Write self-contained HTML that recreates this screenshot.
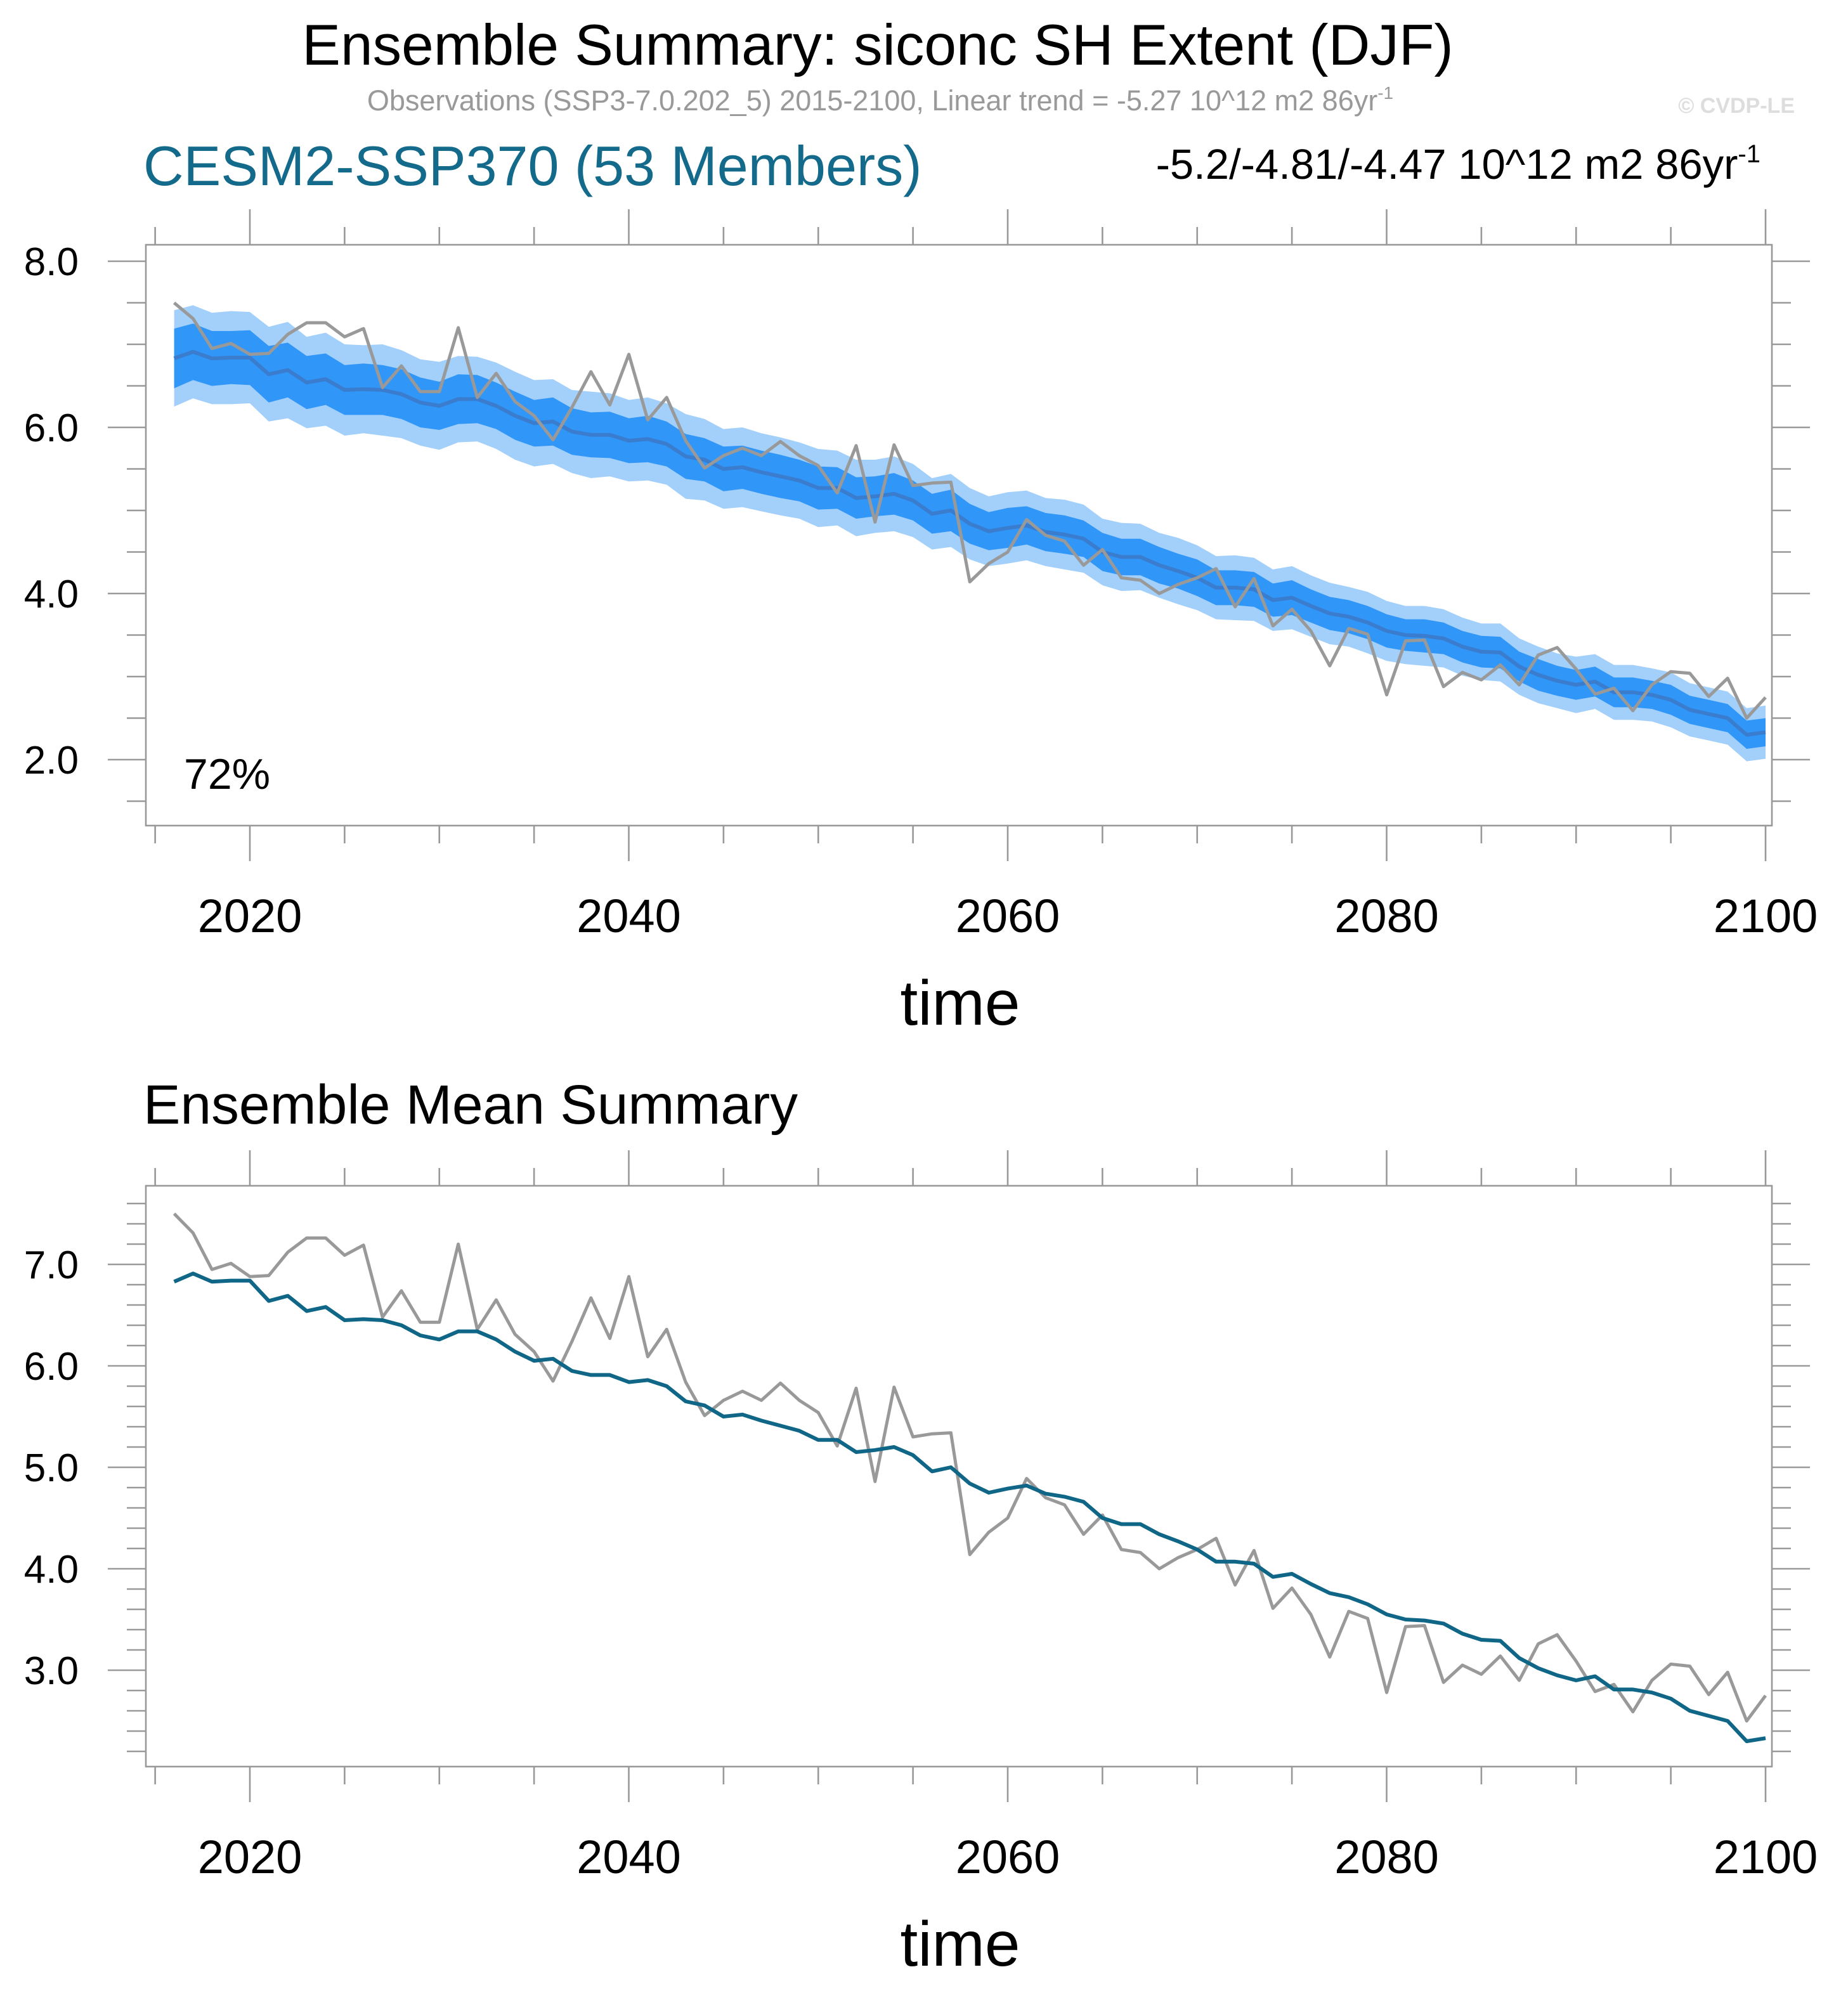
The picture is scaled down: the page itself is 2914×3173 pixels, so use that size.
<!DOCTYPE html>
<html><head><meta charset="utf-8"><style>
html,body{margin:0;padding:0;background:#fff;}
svg{display:block;font-family:"Liberation Sans",sans-serif;}
</style></head><body>
<svg id="chart" width="2914" height="3173" viewBox="0 0 1457 1586.5" xmlns="http://www.w3.org/2000/svg">
<text x="692" y="51" font-size="45.5" text-anchor="middle">Ensemble Summary: siconc SH Extent (DJF)</text>
<text x="694" y="87" font-size="22.5" fill="#999" text-anchor="middle">Observations (SSP3-7.0.202_5) 2015-2100, Linear trend = -5.27 10^12 m2 86yr<tspan dy="-9" font-size="14">-1</tspan></text>
<text x="1415" y="89" font-size="17" font-weight="bold" fill="#ddd" text-anchor="end">© CVDP-LE</text>
<text x="113" y="146" font-size="44" fill="#136a8a">CESM2-SSP370 (53 Members)</text>
<text x="1388" y="141" font-size="33.5" text-anchor="end">-5.2/-4.81/-4.47 10^12 m2 86yr<tspan dy="-13" font-size="20">-1</tspan></text>
<text x="113" y="886" font-size="43.8">Ensemble Mean Summary</text>
<g id="top"></g>
<g id="bot"></g>
</svg>
<script>
const years=[];for(let y=2016;y<=2100;y++)years.push(y);
const obs=[7.5,7.31,6.95,7.01,6.88,6.89,7.12,7.26,7.26,7.09,7.19,6.48,6.74,6.43,6.43,7.2,6.36,6.65,6.31,6.14,5.85,6.24,6.67,6.27,6.88,6.09,6.36,5.84,5.51,5.66,5.75,5.66,5.83,5.66,5.54,5.21,5.78,4.86,5.79,5.3,5.33,5.34,4.14,4.36,4.5,4.89,4.7,4.63,4.34,4.53,4.19,4.16,4.0,4.11,4.19,4.3,3.84,4.18,3.61,3.81,3.55,3.13,3.58,3.51,2.78,3.43,3.44,2.88,3.05,2.96,3.14,2.9,3.26,3.35,3.09,2.79,2.86,2.59,2.9,3.06,3.04,2.76,2.98,2.5,2.75];
const ensMean=[6.83,6.91,6.83,6.84,6.84,6.64,6.69,6.54,6.58,6.45,6.46,6.45,6.4,6.3,6.26,6.34,6.34,6.26,6.14,6.05,6.07,5.95,5.91,5.91,5.84,5.86,5.8,5.65,5.61,5.5,5.52,5.46,5.41,5.36,5.27,5.27,5.15,5.17,5.2,5.12,4.96,5.0,4.84,4.75,4.79,4.82,4.74,4.71,4.66,4.5,4.44,4.44,4.34,4.27,4.19,4.07,4.07,4.05,3.92,3.95,3.85,3.76,3.72,3.65,3.55,3.5,3.49,3.46,3.36,3.3,3.29,3.12,3.02,2.95,2.9,2.94,2.81,2.81,2.78,2.72,2.6,2.55,2.5,2.3,2.33];
const darkSpread=[0.36,0.34,0.33,0.32,0.33,0.34,0.33,0.32,0.31,0.3,0.31,0.3,0.3,0.3,0.29,0.3,0.29,0.28,0.29,0.28,0.29,0.28,0.27,0.28,0.27,0.28,0.27,0.27,0.26,0.27,0.26,0.26,0.26,0.25,0.26,0.25,0.25,0.24,0.25,0.24,0.24,0.25,0.24,0.23,0.24,0.23,0.23,0.23,0.22,0.23,0.22,0.22,0.22,0.21,0.22,0.21,0.21,0.21,0.2,0.21,0.2,0.2,0.2,0.2,0.2,0.19,0.2,0.19,0.19,0.19,0.19,0.18,0.19,0.18,0.18,0.18,0.18,0.18,0.17,0.18,0.17,0.17,0.17,0.17,0.17];
const lightSpread=[0.58,0.56,0.55,0.56,0.55,0.57,0.58,0.55,0.56,0.55,0.53,0.55,0.53,0.52,0.53,0.52,0.51,0.52,0.53,0.52,0.51,0.5,0.52,0.5,0.49,0.5,0.49,0.51,0.49,0.48,0.48,0.47,0.47,0.46,0.47,0.45,0.46,0.44,0.45,0.44,0.43,0.44,0.43,0.42,0.43,0.42,0.41,0.42,0.41,0.4,0.41,0.4,0.39,0.4,0.39,0.38,0.39,0.38,0.37,0.38,0.37,0.37,0.36,0.37,0.36,0.35,0.36,0.35,0.35,0.34,0.35,0.34,0.34,0.33,0.34,0.33,0.33,0.33,0.32,0.33,0.32,0.32,0.32,0.32,0.32];
const xTickLabels=["2020","2040","2060","2080","2100"];
const topYTicks=["2.0","4.0","6.0","8.0"];
const botYTicks=["3.0","4.0","5.0","6.0","7.0"];
const NS="http://www.w3.org/2000/svg";
function mk(p,t,a){const e=document.createElementNS(NS,t);for(const k in a)e.setAttribute(k,a[k]);p.appendChild(e);return e;}
const X=y=>197+(y-2020)*14.9375;
function panel(g,top,bot,yOf,yMin,yMax,minorStep,majors){
  const L=115,R=1397;
  for(let yr=2015;yr<=2100;yr+=5){const x=X(yr);const maj=yr%20===0;const len=maj?28:14;
    const t1=mk(g,'line',{x1:x,x2:x,y1:top,y2:top-len,stroke:'#999','stroke-width':1.3});
    
    const t2=mk(g,'line',{x1:x,x2:x,y1:bot,y2:bot+len,stroke:'#999','stroke-width':1.3});
    }
  xTickLabels.forEach(s=>{const t=mk(g,'text',{x:X(+s),y:bot+84,'font-size':37,'text-anchor':'middle'});t.textContent=s;
    });
  const xt=mk(g,'text',{x:757,y:bot+157,'font-size':50,'text-anchor':'middle'});xt.textContent='time';
  
  for(let v=yMin;v<=yMax+1e-6;v+=minorStep){const y=yOf(v);if(y<top-1||y>bot+1)continue;
    const maj=majors.some(m=>Math.abs(+m-v)<1e-6);const len=maj?30:15;
    const a=mk(g,'line',{x1:L,x2:L-len,y1:y,y2:y,stroke:'#999','stroke-width':1.3});
    
    const b=mk(g,'line',{x1:R,x2:R+len,y1:y,y2:y,stroke:'#999','stroke-width':1.3});
    }
  majors.forEach(s=>{const t=mk(g,'text',{x:62,y:yOf(+s)+11,'font-size':31,'text-anchor':'end'});t.textContent=s;
    });
}
function line(g,vals,yOf,color,w,name){const d=vals.map((v,i)=>(i?'L':'M')+X(years[i]).toFixed(1)+' '+yOf(v).toFixed(1)).join('');
  const p=mk(g,'path',{d,fill:'none',stroke:color,'stroke-width':w,'stroke-linejoin':'round'});
  }
function band(g,lo,hi,yOf,color,name){let d=hi.map((v,i)=>(i?'L':'M')+X(years[i]).toFixed(1)+' '+yOf(v).toFixed(1)).join('');
  for(let i=lo.length-1;i>=0;i--)d+='L'+X(years[i]).toFixed(1)+' '+yOf(lo[i]).toFixed(1);
  const p=mk(g,'path',{d:d+'Z',fill:color});}
const gt=document.getElementById('top');
const yT=v=>206+(8-v)*65.5;
band(gt,ensMean.map((m,i)=>m-lightSpread[i]),ensMean.map((m,i)=>m+lightSpread[i]),yT,'#a3d0fb','range-band-outer');
band(gt,ensMean.map((m,i)=>m-darkSpread[i]),ensMean.map((m,i)=>m+darkSpread[i]),yT,'#3096f8','range-band-inner');
line(gt,ensMean,yT,'#3a7ccd',3,'ensemble-mean-line');
line(gt,obs,yT,'#999',2.5,'observations-line');
const bt=mk(gt,'rect',{x:115,y:193,width:1282,height:458,fill:'none',stroke:'#999','stroke-width':1.3});

panel(gt,193,651,yT,1.5,8.5,0.5,topYTicks);
const pc=mk(gt,'text',{x:145,y:622,'font-size':34});pc.textContent='72%';

const gb=document.getElementById('bot');
const yB=v=>997+(7-v)*80;
line(gb,obs,yB,'#999',2.5,'observations-line');
line(gb,ensMean,yB,'#0f6686',3,'ensemble-mean-line');
const bb=mk(gb,'rect',{x:115,y:935,width:1282,height:458,fill:'none',stroke:'#999','stroke-width':1.3});

panel(gb,935,1393,yB,2.0,7.8,0.2,botYTicks);
</script>
</body></html>
